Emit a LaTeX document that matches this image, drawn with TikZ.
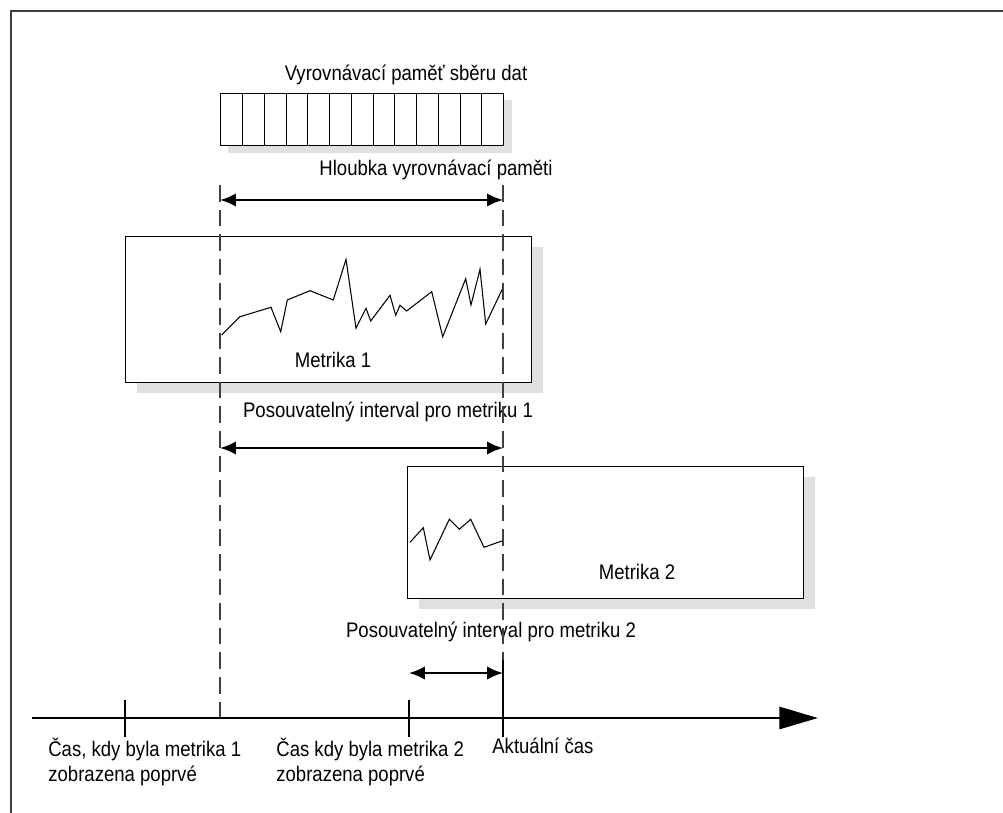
\documentclass[tikz,border=0pt]{standalone}
\usepackage{fontspec}
\setmainfont[FakeStretch=0.88]{Liberation Sans}
\usetikzlibrary{arrows.meta,shadows}

\begin{document}
\begin{tikzpicture}[x=0.02cm,y=-0.02cm,
  every node/.style={font=\fontsize{12}{14.2}\selectfont},
  cell/.style={draw,fill=white,minimum width=0.435cm,minimum height=1.04cm,inner sep=0pt,line width=0.6pt},
  win/.style={draw,fill=white,line width=0.8pt,anchor=north west,inner sep=0pt,
    drop shadow={shadow xshift=0.22cm,shadow yshift=-0.2cm,fill=black!12,opacity=1}},
  span/.style={{Latex[length=9pt,width=7.5pt]}-{Latex[length=9pt,width=7.5pt]},line width=1.1pt},
  guide/.style={black!75,line width=0.6pt,dash pattern=on 9.5pt off 4.5pt},
  tick/.style={line width=1.4pt},
  curve/.style={line width=0.6pt}]
\useasboundingbox (0,0) rectangle (1003,813);
\coordinate (fa) at (11,813);
\coordinate (fb) at (11,11);
\coordinate (fc) at (1003,11);
\draw[black!75,line width=1.1pt] (fa) -- (fb) -- (fc);

\node (bufname) at (406,75) {Vyrovnávací paměť sběru dat};
\node [matrix,ampersand replacement=\&,column sep=-0.6pt,inner sep=0pt,anchor=north west,fill=white,
  nodes={cell},drop shadow={shadow xshift=0.16cm,shadow yshift=-0.14cm,fill=black!12,opacity=1}] (buf) at (220,93)
    {
        \node (c1) {}; \& \node (c2) {}; \& \node (c3) {}; \& \node (c4) {}; \& \node (c5) {}; \& \node (c6) {}; \& \node (c7) {}; \& \node (c8) {}; \& \node (c9) {}; \& \node (c10) {}; \& \node (c11) {}; \& \node (c12) {}; \& \node (c13) {}; \\
};

\node (depth) at (436,170) {Hloubka vyrovnávací paměti};
\coordinate (d1) at (220,200);
\coordinate (d2) at (503,200);
\draw[span] (d1) -- (d2);

% okna metrik
\node[win,minimum width=8.12cm,minimum height=2.92cm] (m1) at (125,236) {};
\node (m1name) at (333,360) {Metrika 1};
\draw[curve] (221.7,335) -- (240,316.7) -- (271,307.3) -- (280.7,331.7) -- (287.3,300) -- (310,290.7) -- (333.3,300) -- (346,259.3) -- (356,328.3) -- (366,308.3) -- (370.7,321) -- (390,295.3) -- (395.7,315.3) -- (400,305.3) -- (406.7,311) -- (431.7,291.7) -- (442.7,336.7) -- (465.7,278.7) -- (471,305) -- (480,269.3) -- (485.7,324) -- (502.7,288.3);

\node (int1) at (388,412) {Posouvatelný interval pro metriku 1};
\coordinate (i1) at (220,448);
\coordinate (i2) at (503,448);
\draw[span] (i1) -- (i2);

\node[win,minimum width=7.92cm,minimum height=2.64cm] (m2) at (407,466) {};
\node (m2name) at (637,572) {Metrika 2};
\draw[curve] (410,542.3) -- (423.3,527.7) -- (430,560) -- (449.3,519.3) -- (459.3,529.3) -- (470.7,519.3) -- (484,547.3) -- (502.7,540.7);

\node (int2) at (491,632) {Posouvatelný interval pro metriku 2};
\coordinate (j1) at (409,673);
\coordinate (j2) at (503,673);
\draw[span] (j1) -- (j2);

\coordinate (g1) at (220,185);
\coordinate (g2) at (503,185);
\coordinate (s1) at (220,718);
\coordinate (n2) at (503,660);
\coordinate (n3) at (503,700);
\coordinate (n4) at (503,737);
\draw[guide] (g1) -- (s1);
\draw[guide] (g2) -- (n2);
\draw[line width=0.6pt] (n2) -- (n3);

% casova osa
\coordinate (o) at (32,718);
\coordinate (e) at (818,718);
\draw[line width=1.7pt,-{Triangle[length=22pt,width=12.5pt]}] (o) -- (e);
\coordinate (t1a) at (125,700);
\coordinate (t1b) at (125,737);
\coordinate (t2a) at (409,700);
\coordinate (t2b) at (409,737);
\draw[tick] (t1a) -- (t1b);
\draw[tick] (t2a) -- (t2b);
\draw[tick] (n3) -- (n4);

\node[anchor=north west,align=left,inner sep=0pt] (lab1) at (48,738) {Čas, kdy byla metrika 1\\zobrazena poprvé};
\node[anchor=north west,align=left,inner sep=0pt] (lab2) at (276,738) {Čas kdy byla metrika 2\\zobrazena poprvé};
\node[anchor=north west,align=left,inner sep=0pt] (lab3) at (492,738) {Aktuální čas};
\end{tikzpicture}
\end{document}
